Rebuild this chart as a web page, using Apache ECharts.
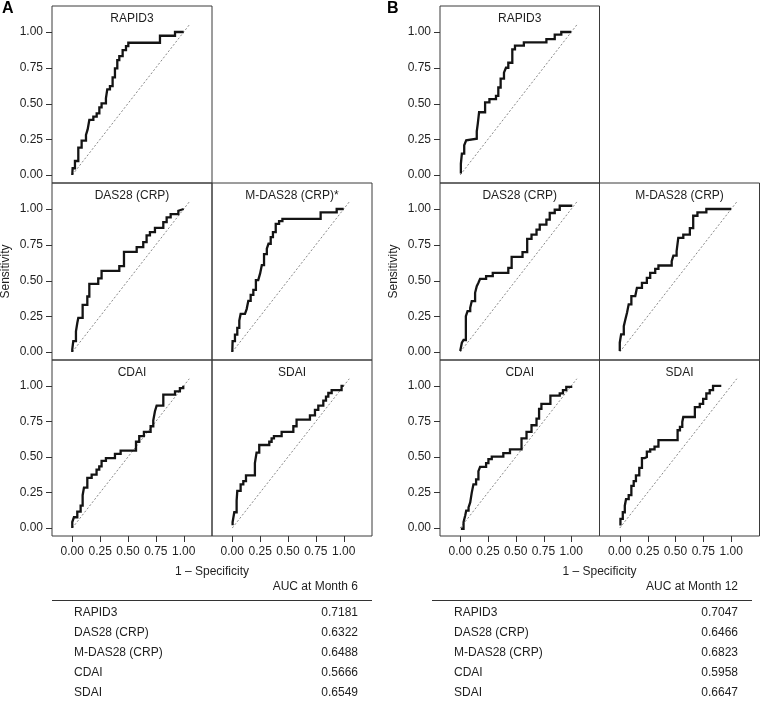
<!DOCTYPE html>
<html><head><meta charset="utf-8">
<script src="https://cdn.jsdelivr.net/npm/echarts@6/dist/echarts.min.js"></script>
<style>html,body{margin:0;padding:0;background:#fff}#c{width:760px;height:703px}</style>
</head><body><div id="c"></div>
<script>
// ---------- data ----------
const panelTitlesA = ['RAPID3', 'DAS28 (CRP)', 'M-DAS28 (CRP)*', 'CDAI', 'SDAI'];
const panelTitlesB = ['RAPID3', 'DAS28 (CRP)', 'M-DAS28 (CRP)', 'CDAI', 'SDAI'];
const tableNames = ['RAPID3', 'DAS28 (CRP)', 'M-DAS28 (CRP)', 'CDAI', 'SDAI'];
const aucMonth6 = ['0.7181', '0.6322', '0.6488', '0.5666', '0.6549'];
const aucMonth12 = ['0.7047', '0.6466', '0.6823', '0.5958', '0.6647'];
const tickValues = [0, 0.25, 0.5, 0.75, 1];
const diagonal = [[0, 0], [1.05, 1.05]];

// ROC step vertices [1 - specificity, sensitivity]
const rocA_RAPID3 = [[0,0],[0.003,0.047],[0.024,0.098],[0.054,0.191],[0.084,0.240],[0.123,0.280],[0.138,0.319],[0.153,0.385],[0.189,0.408],[0.219,0.431],[0.243,0.473],[0.263,0.501],[0.302,0.536],[0.314,0.599],[0.338,0.622],[0.362,0.683],[0.383,0.746],[0.404,0.804],[0.422,0.832],[0.452,0.874],[0.482,0.902],[0.503,0.925],[0.787,0.974],[0.922,1.0],[1.0,1.0]];
const rocA_DAS28 = [[0,0],[0,0.018],[0.009,0.076],[0.033,0.145],[0.045,0.203],[0.054,0.238],[0.093,0.33],[0.135,0.388],[0.153,0.476],[0.233,0.515],[0.263,0.568],[0.422,0.6],[0.464,0.7],[0.578,0.734],[0.637,0.769],[0.667,0.815],[0.697,0.838],[0.742,0.868],[0.817,0.908],[0.847,0.942],[0.883,0.965],[0.952,0.988],[0.966,1.0],[1.0,1.0]];
const rocA_MDAS28 = [[0,0],[0.003,0.076],[0.024,0.122],[0.045,0.168],[0.063,0.22],[0.075,0.266],[0.114,0.277],[0.129,0.3],[0.144,0.358],[0.165,0.4],[0.189,0.434],[0.212,0.503],[0.233,0.515],[0.25,0.55],[0.265,0.607],[0.285,0.684],[0.31,0.723],[0.325,0.757],[0.345,0.804],[0.365,0.838],[0.39,0.896],[0.42,0.915],[0.45,0.931],[0.793,0.977],[0.937,1.0],[1.0,1.0]];
const rocA_CDAI = [[0,0],[0,0.042],[0.015,0.076],[0.045,0.115],[0.075,0.157],[0.093,0.231],[0.105,0.284],[0.135,0.353],[0.174,0.376],[0.218,0.411],[0.242,0.434],[0.263,0.473],[0.302,0.492],[0.383,0.522],[0.434,0.545],[0.572,0.607],[0.601,0.647],[0.643,0.677],[0.703,0.716],[0.727,0.757],[0.742,0.822],[0.757,0.861],[0.817,0.938],[0.922,0.961],[0.966,0.984],[0.996,1.0]];
const rocA_SDAI = [[0.003,0.02],[0.003,0.042],[0.018,0.111],[0.039,0.192],[0.045,0.261],[0.075,0.307],[0.099,0.33],[0.123,0.37],[0.203,0.457],[0.218,0.531],[0.242,0.584],[0.332,0.607],[0.353,0.63],[0.374,0.647],[0.443,0.677],[0.548,0.716],[0.577,0.762],[0.697,0.792],[0.742,0.831],[0.772,0.861],[0.817,0.896],[0.841,0.924],[0.862,0.95],[0.892,0.97],[0.981,1.0],[1.0,1.0]];
const rocB_RAPID3 = [[0.006,0.01],[0.006,0.08],[0.015,0.15],[0.036,0.208],[0.054,0.242],[0.069,0.254],[0.149,0.305],[0.158,0.358],[0.170,0.439],[0.224,0.508],[0.263,0.531],[0.322,0.554],[0.343,0.612],[0.364,0.674],[0.394,0.716],[0.412,0.75],[0.433,0.785],[0.469,0.878],[0.493,0.905],[0.573,0.928],[0.776,0.951],[0.851,0.982],[0.910,1.0],[1.0,1.0]];
const rocB_DAS28 = [[0,0.007],[0.015,0.065],[0.03,0.084],[0.051,0.251],[0.066,0.286],[0.09,0.309],[0.104,0.356],[0.134,0.414],[0.149,0.46],[0.164,0.484],[0.179,0.512],[0.233,0.53],[0.293,0.553],[0.433,0.588],[0.463,0.665],[0.561,0.698],[0.603,0.791],[0.642,0.821],[0.687,0.856],[0.716,0.891],[0.776,0.926],[0.806,0.972],[0.851,0.995],[0.896,1.023],[1.009,1.023]];
const rocB_MDAS28 = [[0,0.007],[0,0.065],[0.012,0.123],[0.036,0.181],[0.05,0.228],[0.065,0.274],[0.08,0.333],[0.104,0.391],[0.139,0.402],[0.154,0.449],[0.199,0.484],[0.243,0.519],[0.273,0.553],[0.318,0.581],[0.347,0.605],[0.466,0.635],[0.481,0.674],[0.51,0.705],[0.525,0.798],[0.57,0.821],[0.629,0.867],[0.659,0.953],[0.697,0.977],[0.777,1.0],[1.0,1.0]];
const rocB_CDAI = [[0.006,-0.005],[0.03,0.042],[0.045,0.088],[0.054,0.122],[0.075,0.145],[0.09,0.18],[0.104,0.249],[0.119,0.307],[0.143,0.342],[0.164,0.4],[0.179,0.43],[0.233,0.457],[0.254,0.485],[0.284,0.503],[0.388,0.527],[0.448,0.554],[0.552,0.63],[0.597,0.677],[0.642,0.723],[0.687,0.769],[0.710,0.838],[0.731,0.873],[0.812,0.931],[0.896,0.947],[0.925,0.97],[0.955,0.993],[1.009,0.993]];
const rocB_SDAI = [[0.006,0.018],[0.006,0.065],[0.027,0.111],[0.045,0.157],[0.056,0.203],[0.08,0.231],[0.104,0.296],[0.125,0.33],[0.145,0.37],[0.175,0.423],[0.199,0.492],[0.223,0.499],[0.243,0.538],[0.273,0.554],[0.312,0.573],[0.347,0.619],[0.519,0.688],[0.54,0.711],[0.561,0.746],[0.57,0.781],[0.674,0.85],[0.718,0.873],[0.748,0.908],[0.777,0.947],[0.807,0.97],[0.837,1.0],[0.911,1.0]];

// ---------- layout ----------
const FONT = '"Liberation Sans", Arial, Helvetica, sans-serif';
const TXT = '#1e1e1e';
const BORDER = '#3a3a3a';
const TICK_LEN = 6;
const panels = [
  { letter: 'A', colLeft: [52, 212], colW: [160, 160], titles: panelTitlesA,
    curves: [rocA_RAPID3, rocA_DAS28, rocA_MDAS28, rocA_CDAI, rocA_SDAI], auc: aucMonth6, aucHead: 'AUC at Month 6' },
  { letter: 'B', colLeft: [440, 599.5], colW: [159.5, 160], titles: panelTitlesB,
    curves: [rocB_RAPID3, rocB_DAS28, rocB_MDAS28, rocB_CDAI, rocB_SDAI], auc: aucMonth12, aucHead: 'AUC at Month 12' }
];
const rowTop = [6, 183, 360];
const rowH = [177, 177, 176];
const cells = [[0, 0], [1, 0], [1, 1], [2, 0], [2, 1]];
const X_MIN = -0.182, X_MAX = 1.254, Y_MIN = -0.056, Y_MAX = 1.182;

const grid = [], xAxis = [], yAxis = [], series = [], graphic = [];
const yTickPanels = [], xTickPanels = [];
let gi = 0;

panels.forEach((p, pi) => {
  const offX = pi * 380;
  graphic.push({ type: 'text', x: p.letter === 'A' ? 2 : 387, y: 1,
    style: { text: p.letter, font: 'bold 16px ' + FONT, fill: '#000' } });
  cells.forEach(([r, c], i) => {
    const left = p.colLeft[c], w = p.colW[c], top = rowTop[r], h = rowH[r];
    const bottomRow = r === 2, leftCol = c === 0;
    grid.push({ left, top, width: w, height: h, show: true, borderColor: BORDER, borderWidth: 1,
      backgroundColor: 'transparent', containLabel: false, outerBoundsMode: 'none' });
    xAxis.push({ type: 'value', gridIndex: gi, min: X_MIN, max: X_MAX,
      axisLine: { show: false, onZero: false }, splitLine: { show: false }, axisTick: { show: false },
      axisLabel: { show: bottomRow, customValues: tickValues, formatter: v => v.toFixed(2), fontSize: 12,
        fontFamily: FONT, color: TXT, margin: 10 } });
    yAxis.push({ type: 'value', gridIndex: gi, min: Y_MIN, max: Y_MAX,
      axisLine: { show: false, onZero: false }, splitLine: { show: false }, axisTick: { show: false },
      axisLabel: { show: leftCol, customValues: tickValues, formatter: v => v.toFixed(2), fontSize: 12,
        fontFamily: FONT, color: TXT, margin: 9 },
      name: (r === 1 && c === 0) ? 'Sensitivity' : '', nameLocation: 'middle', nameGap: 40,
      nameTextStyle: { fontSize: 12, fontFamily: FONT, color: TXT } });
    series.push({ type: 'line', xAxisIndex: gi, yAxisIndex: gi, data: diagonal, showSymbol: false,
      silent: true, clip: false, lineStyle: { color: '#7a7a7a', width: 0.9, type: [2, 2] } });
    series.push({ type: 'line', xAxisIndex: gi, yAxisIndex: gi, data: p.curves[i], step: 'end',
      showSymbol: false, silent: true, clip: false,
      lineStyle: { color: '#141414', width: 2.3, join: 'miter' } });
    graphic.push({ type: 'text', x: left + w / 2, y: top + 13,
      style: { text: p.titles[i], font: '12px ' + FONT, fill: TXT, align: 'center', verticalAlign: 'middle' } });
    const box = { gi, left, top, w, h };
    if (leftCol) yTickPanels.push(box);
    if (bottomRow) xTickPanels.push(box);
    gi++;
  });
  graphic.push({ type: 'text', x: p.colLeft[1], y: 572,
    style: { text: '1 \u2013 Specificity', font: '12px ' + FONT, fill: TXT, align: 'center', verticalAlign: 'middle' } });
  const tL = 52 + offX, tR = 372 + offX, nameX = 74 + offX, valX = 358 + offX;
  graphic.push({ type: 'text', x: valX, y: 587,
    style: { text: p.aucHead, font: '12px ' + FONT, fill: TXT, align: 'right', verticalAlign: 'middle' } });
  graphic.push({ type: 'line', shape: { x1: tL, y1: 600.5, x2: tR, y2: 600.5 },
    style: { stroke: '#333', lineWidth: 1 } });
  tableNames.forEach((nm, k) => {
    const yy = 613 + k * 20;
    graphic.push({ type: 'text', x: nameX, y: yy,
      style: { text: nm, font: '12px ' + FONT, fill: TXT, align: 'left', verticalAlign: 'middle' } });
    graphic.push({ type: 'text', x: valX, y: yy,
      style: { text: p.auc[k], font: '12px ' + FONT, fill: TXT, align: 'right', verticalAlign: 'middle' } });
  });
});

const chart = echarts.init(document.getElementById('c'), null, { renderer: 'canvas' });
chart.setOption({ animation: false, backgroundColor: '#fff', grid, xAxis, yAxis, series });

// axis tick marks: positions come from each panel's axis scale (convertToPixel)
function toPx(g, pt) {
  let res = null;
  try { res = chart.convertToPixel({ xAxisIndex: g, yAxisIndex: g }, pt); } catch (e) { res = null; }
  return res;
}
yTickPanels.forEach(b => tickValues.forEach(v => {
  const res = toPx(b.gi, [0, v]);
  let py = res && isFinite(res[1]) ? res[1] : b.top + (Y_MAX - v) / (Y_MAX - Y_MIN) * b.h;
  const y = Math.round(py) + 0.5;
  graphic.push({ type: 'line', z: 100, silent: true,
    shape: { x1: b.left - TICK_LEN, y1: y, x2: b.left, y2: y }, style: { stroke: '#333', lineWidth: 1 } });
}));
xTickPanels.forEach(b => tickValues.forEach(v => {
  const res = toPx(b.gi, [v, 0]);
  let px = res && isFinite(res[0]) ? res[0] : b.left + (v - X_MIN) / (X_MAX - X_MIN) * b.w;
  const x = Math.round(px) + 0.5;
  const yb = b.top + b.h;
  graphic.push({ type: 'line', z: 100, silent: true,
    shape: { x1: x, y1: yb, x2: x, y2: yb + TICK_LEN }, style: { stroke: '#333', lineWidth: 1 } });
}));
chart.setOption({ graphic });
</script></body></html>
